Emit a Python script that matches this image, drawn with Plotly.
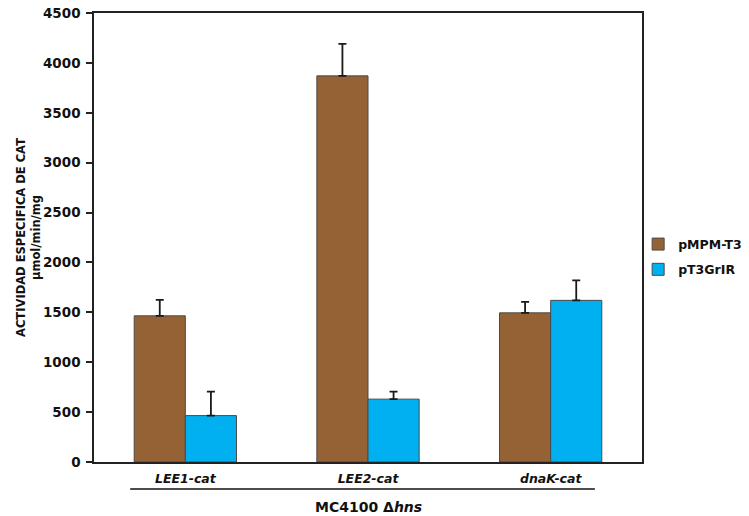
import plotly.graph_objects as go

categories = ["LEE1-cat", "LEE2-cat", "dnaK-cat"]
series_names = ["pMPM-T3", "pT3GrIR"]
pmpm_values = [1465, 3870, 1495]
pmpm_errors = [160, 320, 110]
pt3_values = [465, 630, 1620]
pt3_errors = [240, 75, 200]
y_ticks = [0, 500, 1000, 1500, 2000, 2500, 3000, 3500, 4000, 4500]

FONT = "DejaVu Sans"
cat_labels = [f"<b><i>{c}</i></b>" for c in categories]

fig = go.Figure()
fig.add_trace(go.Bar(
    x=cat_labels, y=pmpm_values, name=f"<b>{series_names[0]}</b>", legendgroup="a",
    marker=dict(color="#946234", line=dict(color="#4a4a4a", width=1)),
    error_y=dict(type="data", array=pmpm_errors, arrayminus=[0]*3, symmetric=False,
                 color="#1a1a1a", thickness=1.8, width=4),
))
fig.add_trace(go.Bar(
    x=cat_labels, y=pt3_values, name=f"<b>{series_names[1]}</b>", legendgroup="b",
    marker=dict(color="#00B0F0", line=dict(color="#4a4a4a", width=1)),
    error_y=dict(type="data", array=pt3_errors, arrayminus=[0]*3, symmetric=False,
                 color="#1a1a1a", thickness=1.8, width=4),
))

fig.update_layout(
    width=749, height=516,
    margin=dict(l=94, r=107, t=13, b=54, autoexpand=False),
    paper_bgcolor="white", plot_bgcolor="white",
    barmode="group", bargap=0.44, bargroupgap=0,
    font=dict(family=FONT, size=12, color="#111"),
    legend=dict(xref="container", yref="container", x=0.852, y=0.502,
                xanchor="left", yanchor="middle", bgcolor="rgba(0,0,0,0)",
                font=dict(family=FONT, size=12.5, color="#111"),
                itemwidth=30, tracegroupgap=6),
    showlegend=True,
)
fig.update_xaxes(
    automargin=False,
    showline=True, linecolor="#222", linewidth=1.5, mirror=True,
    ticks="", showgrid=False, ticklabelstandoff=4,
    tickfont=dict(family=FONT, size=12.5, color="#111"),
)
fig.update_yaxes(
    automargin=False,
    range=[0, 4500], tickvals=y_ticks,
    ticktext=[f"<b>{v}</b>" for v in y_ticks],
    showline=True, linecolor="#222", linewidth=1.5, mirror=True,
    ticks="outside", ticklen=6, tickcolor="#222", tickwidth=1.5,
    ticklabelstandoff=3,
    showgrid=False, zeroline=False,
    tickfont=dict(family=FONT, size=13.5, color="#111"),
    title=dict(text="<b>ACTIVIDAD ESPECIFICA DE CAT<br>µmol/min/mg</b>",
               font=dict(family=FONT, size=11.5, color="#111"), standoff=0),
)

fig.add_shape(type="line", xref="paper", yref="paper",
              x0=0.066, x1=0.914, y0=-0.06, y1=-0.06,
              line=dict(color="#111", width=1.5))
fig.add_annotation(xref="paper", yref="paper", x=0.5, y=-0.1,
                   text="<b>MC4100 Δ<i>hns</i></b>", showarrow=False,
                   font=dict(family=FONT, size=14, color="#111"),
                   xanchor="center", yanchor="middle")

fig.write_html("out.html", config={"displayModeBar": False},
               post_script="document.body.style.margin='0';document.body.style.overflow='hidden';")
